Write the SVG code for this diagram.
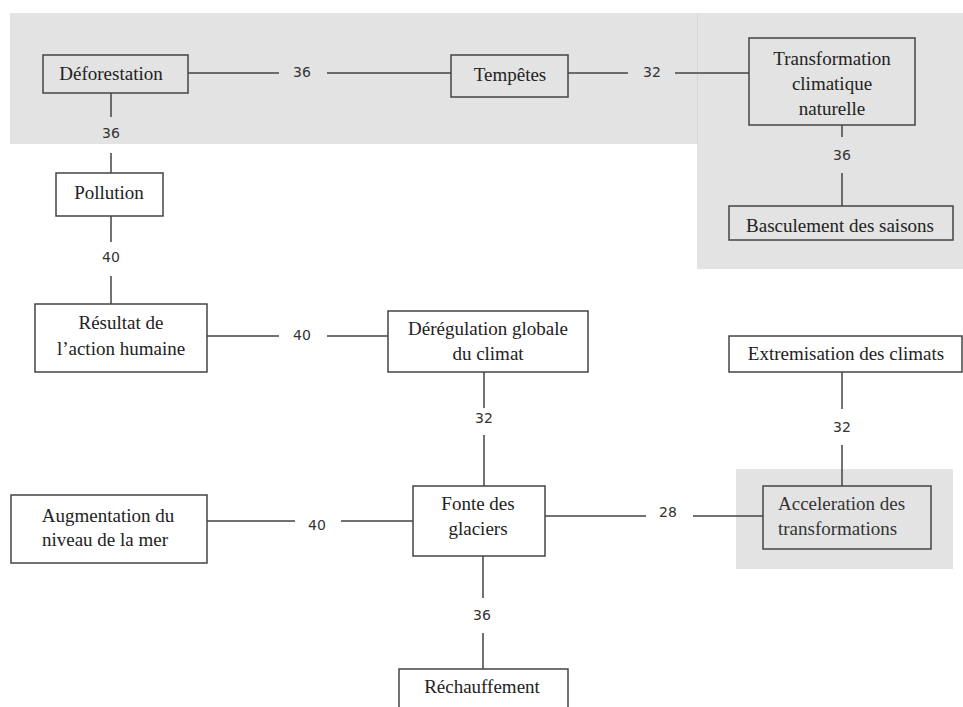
<svg xmlns="http://www.w3.org/2000/svg" width="963" height="707" viewBox="0 0 963 707">
<style>
.bg{fill:#e3e3e3}
.box{fill:#fff;stroke:#444;stroke-width:1.5}
.gbox{fill:none;stroke:#444;stroke-width:1.5}
.t{font-family:"Liberation Serif","Times New Roman",serif;font-size:19px;fill:#222;text-anchor:middle}
.ta{font-family:"Liberation Serif","Times New Roman",serif;font-size:19px;fill:#333}
.c{stroke:#444;stroke-width:1.5;fill:none}
.n{font-family:"DejaVu Sans",Verdana,sans-serif;font-size:14px;fill:#333;text-anchor:middle}
</style>
<g id="backgrounds">
<rect class="bg" x="10" y="13" width="687" height="131"/>
<rect class="bg" x="697" y="13" width="266" height="256"/>
<line x1="697.5" y1="13" x2="697.5" y2="144" stroke="#d6d6d6" stroke-width="1"/>
<rect class="bg" x="736" y="469" width="217" height="100"/>
</g>
<g id="connectors">
<path class="c" d="M188 73H279M327 73H451"/>
<text class="n" x="302" y="77">36</text>
<path class="c" d="M568 73H628M675 73H749"/>
<text class="n" x="652" y="77">32</text>
<path class="c" d="M111 93V117M111 153V173"/>
<text class="n" x="111" y="138">36</text>
<path class="c" d="M842 125V137M842 173V206"/>
<text class="n" x="842" y="160">36</text>
<path class="c" d="M111 216V242M111 276V304"/>
<text class="n" x="111" y="262">40</text>
<path class="c" d="M207 336H279M327 336H388"/>
<text class="n" x="302" y="340">40</text>
<path class="c" d="M484 372V408M484 435V486"/>
<text class="n" x="484" y="423">32</text>
<path class="c" d="M842 372V409M842 445V486"/>
<text class="n" x="842" y="432">32</text>
<path class="c" d="M207 521H295M341 521H413"/>
<text class="n" x="317" y="530">40</text>
<path class="c" d="M545 516H646M693 516H763"/>
<text class="n" x="668" y="517">28</text>
<path class="c" d="M483 556V598M483 633V669"/>
<text class="n" x="482" y="620">36</text>
</g>
<g id="n-deforestation">
<rect class="gbox" x="43" y="55" width="145" height="38"/>
<text class="t" x="111" y="80">Déforestation</text>
</g>
<g id="n-tempetes">
<rect class="gbox" x="451" y="55" width="117" height="42"/>
<text class="t" x="510" y="81">Tempêtes</text>
</g>
<g id="n-transformation">
<rect class="gbox" x="749" y="38" width="166" height="87"/>
<text class="t" x="832" y="65">Transformation</text>
<text class="t" x="832" y="90">climatique</text>
<text class="t" x="832" y="115">naturelle</text>
</g>
<g id="n-basculement">
<rect class="gbox" x="729" y="206" width="224" height="34"/>
<text class="t" x="840" y="232">Basculement des saisons</text>
</g>
<g id="n-pollution">
<rect class="box" x="56" y="173" width="107" height="43"/>
<text class="t" x="109" y="199">Pollution</text>
</g>
<g id="n-resultat">
<rect class="box" x="35" y="304" width="172" height="68"/>
<text class="t" x="121" y="329">Résultat de</text>
<text class="t" x="121" y="355">l’action humaine</text>
</g>
<g id="n-deregulation">
<rect class="box" x="388" y="311" width="200" height="61"/>
<text class="t" x="488" y="335">Dérégulation globale</text>
<text class="t" x="488" y="360">du climat</text>
</g>
<g id="n-extremisation">
<rect class="box" x="729" y="336" width="233" height="36"/>
<text class="t" x="846" y="360">Extremisation des climats</text>
</g>
<g id="n-acceleration">
<rect class="gbox" x="763" y="486" width="168" height="63"/>
<text class="ta" x="778" y="510">Acceleration des</text>
<text class="ta" x="778" y="535">transformations</text>
</g>
<g id="n-augmentation">
<rect class="box" x="11" y="495" width="196" height="68"/>
<text class="t" x="108" y="522">Augmentation du</text>
<text class="t" x="105" y="546">niveau de la mer</text>
</g>
<g id="n-fonte">
<rect class="box" x="413" y="486" width="132" height="70"/>
<text class="t" x="478" y="510">Fonte des</text>
<text class="t" x="478" y="535">glaciers</text>
</g>
<g id="n-rechauffement">
<rect class="box" x="399" y="669" width="169" height="60"/>
<text class="t" x="482" y="693">Réchauffement</text>
</g>
</svg>
